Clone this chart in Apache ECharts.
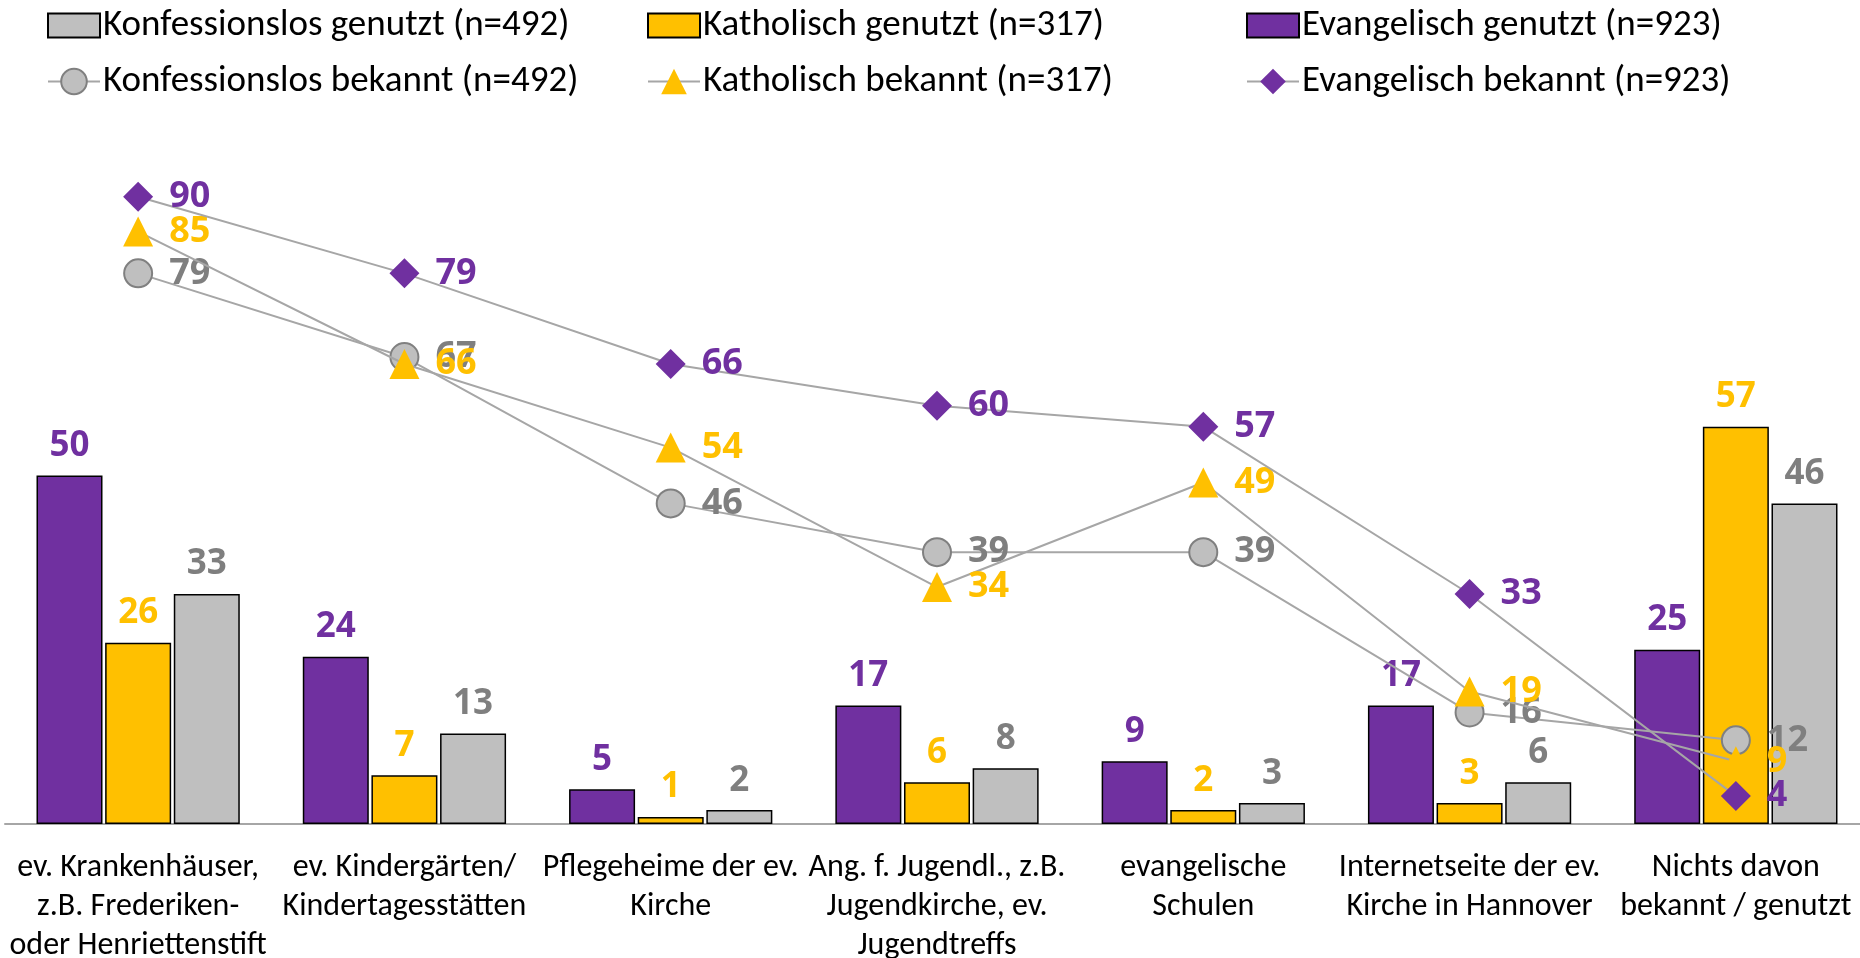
<!DOCTYPE html>
<html>
<head>
<meta charset="utf-8">
<script src="https://cdn.jsdelivr.net/npm/echarts@6/dist/echarts.min.js"></script>
<style>
  html, body { margin: 0; padding: 0; background: #fff; }
  #main { width: 1860px; height: 958px; }
</style>
</head>
<body>
<div id="main"></div>
<script>
const categories = [
  'ev. Krankenhäuser,\nz.B. Frederiken-\noder Henriettenstift',
  'ev. Kindergärten/\nKindertagesstätten',
  'Pflegeheime der ev.\nKirche',
  'Ang. f. Jugendl., z.B.\nJugendkirche, ev.\nJugendtreffs',
  'evangelische\nSchulen',
  'Internetseite der ev.\nKirche in Hannover',
  'Nichts davon\nbekannt / genutzt'
];

// genutzt (bars)
const evGenutzt = [50, 24, 5, 17, 9, 17, 25];
const kathGenutzt = [26, 7, 1, 6, 2, 3, 57];
const konfGenutzt = [33, 13, 2, 8, 3, 6, 46];

// bekannt (lines)
const evBekannt = [90, 79, 66, 60, 57, 33, 4];
const kathBekannt = [85, 66, 54, 34, 49, 19, 9];
const konfBekannt = [79, 67, 46, 39, 39, 16, 12];

const PURPLE = '#7030a0';
const YELLOW = '#ffc000';
const GRAY = '#bfbfbf';
const GRAY_TXT = '#7f7f7f';
const LINE_GRAY = '#a6a6a6';
const textFont = '"Liberation Sans Narrow", "Carlito", "Noto Sans", sans-serif';
const numFont = '"Open Sans", "Noto Sans", sans-serif';

const chart = echarts.init(document.getElementById('main'));

function barSeries(name, data, color, txt) {
  return {
    name: name,
    type: 'bar',
    data: data,
    barWidth: 66,
    barGap: '4%',
    itemStyle: { color: color, borderColor: '#000', borderWidth: 1.5 },
    label: {
      show: true, position: 'top', distance: 12,
      color: txt, fontFamily: numFont, fontWeight: 'bold', fontSize: 35
    },
    z: 2
  };
}

function lineSeries(name, data, symbol, size, color, border, txt, z) {
  return {
    name: name,
    type: 'line',
    data: data,
    symbol: symbol,
    symbolSize: size,
    showAllSymbol: true,
    lineStyle: { color: LINE_GRAY, width: 2 },
    itemStyle: { color: color, borderColor: border, borderWidth: border ? 2 : 0 },
    label: {
      show: true, position: 'right', distance: 16,
      color: txt, fontFamily: numFont, fontWeight: 'bold', fontSize: 36
    },
    z: z
  };
}

const names = [
  'Konfessionslos genutzt (n=492)', 'Katholisch genutzt (n=317)', 'Evangelisch genutzt (n=923)',
  'Konfessionslos bekannt (n=492)', 'Katholisch bekannt (n=317)', 'Evangelisch bekannt (n=923)'
];
const legendLeft = [42, 642, 1241, 42, 642, 1241];
const legendTop = [2, 2, 2, 58, 58, 58];

const option = {
  animation: false,
  legend: names.map((n, i) => ({
    data: i < 3 ? [{ name: n, icon: 'rect' }] : [n],
    left: legendLeft[i],
    top: legendTop[i],
    itemWidth: 52,
    itemHeight: i < 3 ? 24 : 32,
    itemGap: 0,
    textStyle: { fontFamily: textFont, fontSize: 37, color: '#000', padding: [0, 0, 0, -2] }
  })),
  grid: { left: 5, right: -9, top: 127, bottom: 134, containLabel: false, outerBoundsMode: 'none' },
  xAxis: {
    type: 'category',
    data: categories,
    axisLine: { lineStyle: { color: '#a6a6a6', width: 2 } },
    axisTick: { show: false },
    axisLabel: {
      interval: 0, margin: 24,
      fontFamily: textFont, fontSize: 32, lineHeight: 39, color: '#000'
    }
  },
  yAxis: {
    type: 'value', min: 0, max: 100, show: false,
    splitLine: { show: false }
  },
  series: [
    barSeries('Evangelisch genutzt (n=923)', evGenutzt, PURPLE, PURPLE),
    barSeries('Katholisch genutzt (n=317)', kathGenutzt, YELLOW, YELLOW),
    barSeries('Konfessionslos genutzt (n=492)', konfGenutzt, GRAY, GRAY_TXT),
    lineSeries('Konfessionslos bekannt (n=492)', konfBekannt, 'circle', 28, GRAY, '#808080', GRAY_TXT, 3),
    lineSeries('Katholisch bekannt (n=317)', kathBekannt, 'triangle', 30, YELLOW, null, YELLOW, 4),
    lineSeries('Evangelisch bekannt (n=923)', evBekannt, 'diamond', 30, PURPLE, null, PURPLE, 5)
  ]
};

chart.setOption(option);
</script>
</body>
</html>
